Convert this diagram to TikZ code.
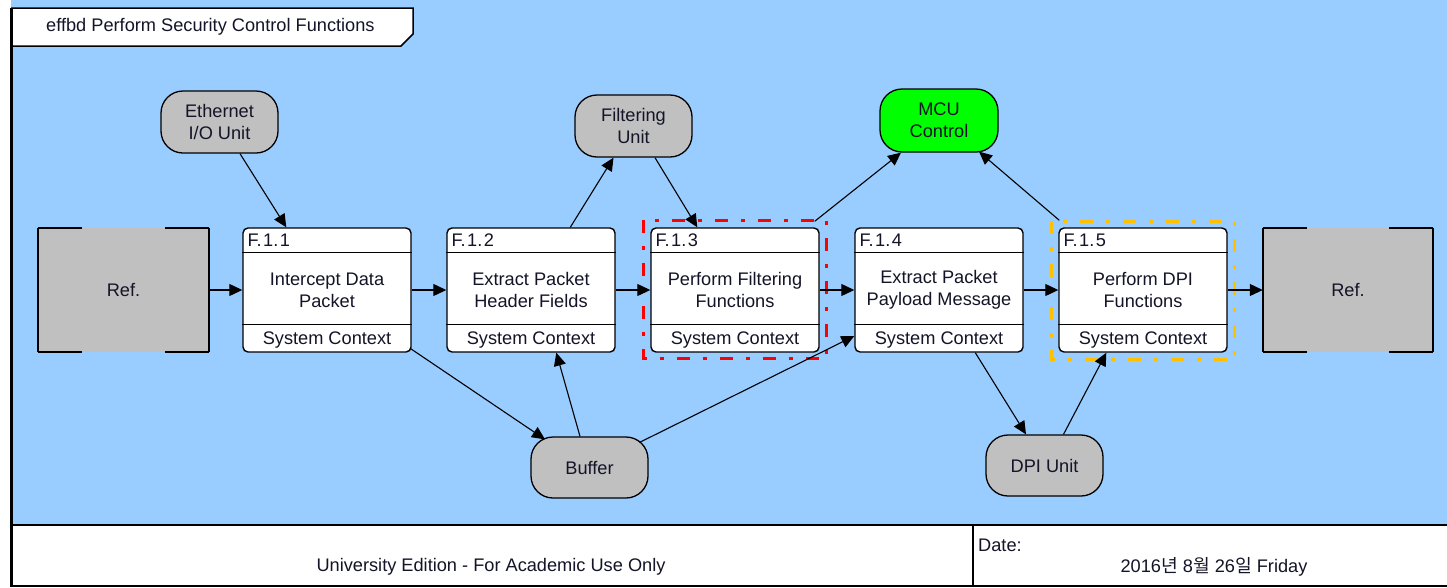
\documentclass[tikz,border=0pt]{standalone}
\usepackage{fontspec}
\setmainfont{Liberation Sans}
\newfontfamily\krfont{Noto Sans CJK KR}
\usetikzlibrary{arrows.meta,calc}

\definecolor{bgblue}{RGB}{153,204,255}
\definecolor{refgray}{RGB}{192,192,192}
\definecolor{mcugreen}{RGB}{0,255,0}
\definecolor{dashred}{RGB}{255,0,0}
\definecolor{dashorange}{RGB}{255,192,0}
\definecolor{txt}{RGB}{20,20,40}

\begin{document}
\begin{tikzpicture}[x=1pt,y=-1pt,
  every node/.style={font=\fontsize{18.2}{22}\selectfont, inner sep=0pt, text=txt},
  fbox/.style={draw, line width=1.4pt, fill=white, rounded corners=5pt, minimum width=168pt, minimum height=124pt},
  unit/.style={draw, line width=1.3pt, fill=refgray, rounded corners=22pt, minimum width=117pt, minimum height=62pt, align=center},
  refbox/.style={fill=refgray, minimum width=171pt, minimum height=124pt},
  refedge/.style={line width=2.2pt},
  conn/.style={line width=1.1pt, -{Triangle[length=13pt,width=12pt]}},
  frameline/.style={line width=2.6pt},
  dashdot/.style={line width=3.3pt, dash pattern=on 13pt off 13pt on 4pt off 13pt}
]
% canvas
\useasboundingbox (0,0) rectangle (1447,587);
\fill[white] (0,0) rectangle (1447,587);
\fill[bgblue] (11,0) rectangle (1447,525);

% title tab
\draw[fill=white, line width=1.5pt] (11,8) -- (413,8) -- (413,34) -- (401,46) -- (11,46);
\node[anchor=west] (title) at (46,27) {effbd Perform Security Control Functions};

% footer
\draw[frameline] (10,525) -- (1447,525);
\draw[line width=2pt] (10,585.5) -- (1447,585.5);
\draw[frameline] (11.3,8) -- (11.3,587);
\draw[frameline] (973,525) -- (973,587);
\node (edition) at (491,567) {University Edition - For Academic Use Only};
\node[anchor=west] (datelbl) at (978,545) {Date:};
\node (date) at (1214,567) {2016{\krfont 년} 8{\krfont 월} 26{\krfont 일} Friday};

% reference boxes
\node[refbox] (refl) at (123.5,290) {Ref.};
\node[refbox, minimum width=170pt] (refr) at (1348,290) {Ref.};
\foreach \r in {refl,refr}{
  \draw[refedge] (\r.north west) -- (\r.south west);
  \draw[refedge] (\r.north east) -- (\r.south east);
  \draw[refedge] (\r.north west) -- ([xshift=44pt]\r.north west);
  \draw[refedge] (\r.north east) -- ([xshift=-44pt]\r.north east);
  \draw[refedge] (\r.south west) -- ([xshift=44pt]\r.south west);
  \draw[refedge] (\r.south east) -- ([xshift=-44pt]\r.south east);
}

% function boxes
\foreach \i/\id/\x/\txt in {11/1/327/{Intercept Data\\Packet},
                        12/2/531/{Extract Packet\\Header Fields},
                        13/3/735/{Perform Filtering\\Functions},
                        14/4/939/{Extract Packet\\Payload Message},
                        15/5/1143/{Perform DPI\\Functions}}{
  \node[fbox] (f\i) at (\x,290) {};
  \draw[line width=1.4pt] ([yshift=-25pt]f\i.north west) -- ([yshift=-25pt]f\i.north east);
  \draw[line width=1.4pt] ([yshift=28pt]f\i.south west) -- ([yshift=28pt]f\i.south east);
  \node[anchor=west] (f\i id) at ([xshift=5pt,yshift=-13pt]f\i.north west) {F.\kern1.5pt 1.\kern1.5pt \id};
  \node[align=center] (f\i t) at (f\i.center) {\txt};
  \node (f\i s) at ([yshift=13pt]f\i.south) {System Context};
}

% highlight frames
\draw[dashred, dashdot] ($(f13.north west)+(-7,-7)$) rectangle ($(f13.south east)+(7,6)$);
\draw[dashorange, dashdot] ($(f15.north west)+(-7,-6)$) rectangle ($(f15.south east)+(7,7)$);

% resource units
\node[unit] (eth) at (219.5,122) {Ethernet\\I/O Unit};
\node[unit] (filt) at (633.5,126) {Filtering\\Unit};
\node[unit, fill=mcugreen, minimum width=118pt, minimum height=63pt] (mcu) at (939,120.5) {MCU\\Control};
\node[unit, minimum height=61pt] (buf) at (589.5,467.5) {Buffer};
\node[unit, minimum height=61pt] (dpi) at (1044.5,465.5) {DPI Unit};

% main flow
\draw[conn] (refl.east) -- (f11.west);
\draw[conn] (f11.east) -- (f12.west);
\draw[conn] (f12.east) -- (f13.west);
\draw[conn] (f13.east) -- (f14.west);
\draw[conn] (f14.east) -- (f15.west);
\draw[conn] (f15.east) -- (refr.west);

% resource links
\draw[conn] ([xshift=20.5pt]eth.south) -- ([xshift=44pt]f11.north west);
\draw[conn] ([xshift=124pt]f12.north west) -- ([xshift=-20pt]filt.south);
\draw[conn] ([xshift=21.5pt]filt.south) -- ([xshift=47pt]f13.north west);
\draw[conn] ([xshift=-5pt,yshift=6pt]f13.north east) -- ([xshift=-38pt]mcu.south);
\draw[conn] ([xshift=1pt,yshift=7pt]f15.north west) -- ([xshift=40pt,yshift=1pt]mcu.south);
\draw[conn] ([xshift=-1pt,yshift=4pt]f11.south east) -- ([xshift=-44.5pt,yshift=-3pt]buf.north);
\draw[conn] ([xshift=-9.5pt]buf.north) -- ([xshift=110pt]f12.south west);
\draw[conn] ([xshift=-9pt,yshift=-6pt]buf.north east) -- ([yshift=-46pt]f14.west);
\draw[conn] ([xshift=121pt]f14.south west) -- ([xshift=-18.5pt]dpi.north);
\draw[conn] ([xshift=19pt]dpi.north) -- ([xshift=48pt]f15.south west);
\end{tikzpicture}
\end{document}
